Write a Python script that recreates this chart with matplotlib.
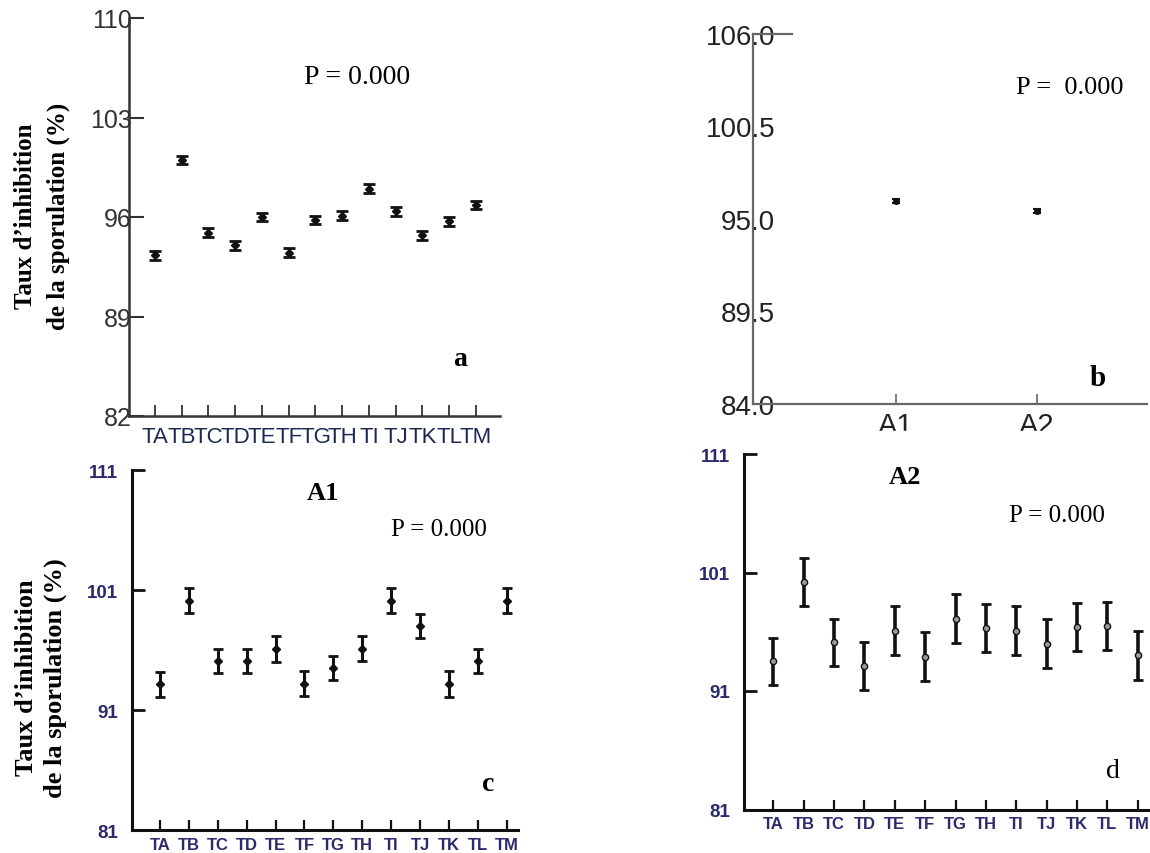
import numpy as np
import matplotlib
matplotlib.use("Agg")
from matplotlib import pyplot as plt
from matplotlib.patches import Rectangle

treatments = ['TA', 'TB', 'TC', 'TD', 'TE', 'TF', 'TG', 'TH', 'TI', 'TJ', 'TK', 'TL', 'TM']

# panel a: all treatments
a_means = [93.3, 100.0, 94.9, 94.0, 96.0, 93.5, 95.8, 96.1, 98.0, 96.4, 94.7, 95.7, 96.85]
a_err = [0.3, 0.3, 0.3, 0.3, 0.3, 0.3, 0.3, 0.3, 0.3, 0.3, 0.3, 0.3, 0.3]
a_yticks = [82, 89, 96, 103, 110]

# panel b: isolates
isolates = ['A1', 'A2']
b_means = [96.05, 95.5]
b_err = [0.12, 0.12]
b_yticks = [84.0, 89.5, 95.0, 100.5, 106.0]

# panel c: isolate A1
c_means = [93.15, 100.1, 95.1, 95.1, 96.1, 93.2, 94.5, 96.1, 100.1, 98.0, 93.15, 95.1, 100.1]
c_err = [1.05, 1.03, 1.0, 1.0, 1.07, 1.05, 1.0, 1.05, 1.03, 1.0, 1.08, 1.0, 1.03]

# panel d: isolate A2
d_means = [93.5, 100.2, 95.1, 93.1, 96.1, 93.9, 97.1, 96.3, 96.1, 95.0, 96.4, 96.5, 94.0]
d_err = [2.0, 2.0, 1.95, 2.05, 2.05, 2.05, 2.05, 2.05, 2.05, 2.05, 2.05, 2.05, 2.05]
cd_yticks = [81, 91, 101, 111]

YLABEL = 'Taux d\u2019inhibition\nde la sporulation (%)'
SERIF = 'Liberation Serif'
SANS = 'Liberation Sans'

W, H = 1150, 854


def px_rect(left, top, right, bottom):
    """pixel box -> figure fraction rect"""
    return [left / W, 1 - bottom / H, (right - left) / W, (bottom - top) / H]


def base_axis(ax, lw, color):
    for side in ['top', 'right']:
        ax.spines[side].set_visible(False)
    for side in ['left', 'bottom']:
        ax.spines[side].set_linewidth(lw)
        ax.spines[side].set_color(color)


def panel_a(fig):
    ax = fig.add_axes(px_rect(129, 19, 500, 417))
    x = np.arange(len(treatments))
    ax.errorbar(x, a_means, yerr=a_err, fmt='D', color='#111', ms=4,
                capsize=4, capthick=2, elinewidth=2)
    ax.set_xlim(-0.972, 12.9)
    ax.set_ylim(82, 110)
    base_axis(ax, 1.8, '#333')
    ax.set_yticks(a_yticks)
    ax.set_yticklabels([str(v) for v in a_yticks], fontsize=18, family=SANS, color='#333')
    ax.tick_params(axis='y', direction='in', length=11, width=1.5, color='#333', pad=-2)
    ax.set_xticks(x)
    # the labels run into each other in the original, kept that way
    ax.set_xticklabels(treatments, fontsize=16, family=SANS, color='#1c2850')
    ax.tick_params(axis='x', direction='in', length=8, width=1.3, color='#333', pad=7)
    fig.text(357 / W, 1 - 77 / H, 'P = 0.000', fontsize=20, family=SERIF,
             ha='center', va='center')
    fig.text(460 / W, 1 - 360 / H, 'a', fontsize=20, family=SERIF, weight='bold',
             ha='center', va='center')
    fig.text(42 / W, 1 - 216 / H, YLABEL, rotation=90, fontsize=18, family=SERIF,
             weight='bold', ha='center', va='center', multialignment='center',
             linespacing=1.55)


def panel_b(fig):
    ax = fig.add_axes(px_rect(753, 35, 1147, 405))
    x = np.arange(len(isolates))
    ax.errorbar(x, b_means, yerr=b_err, fmt='o', color='#111', ms=4,
                capsize=3, capthick=1.5, elinewidth=1.5)
    ax.set_xlim(-1.014, 1.78)
    ax.set_ylim(84, 106)
    base_axis(ax, 1.6, '#666')
    ax.set_yticks(b_yticks)
    ax.set_yticklabels([f'{v:.1f}' for v in b_yticks], fontsize=20, family=SANS, color='#222')
    ax.tick_params(axis='y', length=0, pad=-16)
    ax.set_xticks(x)
    ax.set_xticklabels(isolates, fontsize=21, family=SANS, color='#222')
    ax.tick_params(axis='x', direction='in', length=7, width=1.2, color='#666', pad=5)
    ax.plot([0, 0.1], [1, 1], transform=ax.transAxes, color='#666', lw=1.6, clip_on=False)
    fig.text(1070 / W, 1 - 88 / H, 'P =  0.000', fontsize=19, family=SERIF,
             ha='center', va='center')
    fig.text(1098 / W, 1 - 378 / H, 'b', fontsize=21, family=SERIF, weight='bold',
             ha='center', va='center')
    # bottom of the A1 / A2 labels is cut off in the original
    fig.patches.append(Rectangle((700 / W, 1 - 447 / H), 450 / W, 15 / H,
                                 transform=fig.transFigure, color='white', zorder=10))


def panel_cd(fig, rect, x0, x1, means, errs, marker, mfc, elw, title, title_xy, p_xy,
             letter, letter_xy, letter_weight):
    ax = fig.add_axes(rect)
    x = np.arange(len(treatments))
    ax.errorbar(x, means, yerr=errs, fmt=marker, color='#111', mfc=mfc, ms=4.5,
                capsize=3.5, capthick=2, elinewidth=elw)
    ax.set_xlim(x0, x1)
    ax.set_ylim(81, 111)
    base_axis(ax, 2.2, '#111')
    ax.set_yticks(cd_yticks)
    ax.set_yticklabels([str(v) for v in cd_yticks], fontsize=13.5, family=SANS,
                       weight='bold', color='#2b2a6b')
    ax.tick_params(axis='y', direction='in', length=9, width=2, color='#111', pad=10)
    ax.set_xticks(x)
    ax.set_xticklabels(treatments, fontsize=12, family=SANS, weight='bold', color='#2b2a6b')
    ax.tick_params(axis='x', direction='in', length=7, width=1.6, color='#111', pad=5)
    fig.text(title_xy[0] / W, 1 - title_xy[1] / H, title, fontsize=19, family=SERIF,
             weight='bold', ha='center', va='center')
    fig.text(p_xy[0] / W, 1 - p_xy[1] / H, 'P = 0.000', fontsize=18, family=SERIF,
             ha='center', va='center')
    fig.text(letter_xy[0] / W, 1 - letter_xy[1] / H, letter, fontsize=20, family=SERIF,
             weight=letter_weight, ha='center', va='center')


def main():
    fig = plt.figure(figsize=(11.5, 8.54), dpi=100)
    panel_a(fig)
    panel_b(fig)
    panel_cd(fig, px_rect(132, 471, 518, 831), -0.969, 12.39, c_means, c_err, 'D', '#111', 2.2,
             'A1', (323, 494), (439, 530), 'c', (488, 785), 'bold')
    panel_cd(fig, px_rect(744, 455, 1150, 810.5), -0.964, 12.4, d_means, d_err, 'o', '#999', 2.6,
             'A2', (905, 478), (1057, 516), 'd', (1113, 772), 'normal')
    fig.text(41 / W, 1 - 678 / H, YLABEL, rotation=90, fontsize=19, family=SERIF,
             weight='bold', ha='center', va='center', multialignment='center',
             linespacing=1.35)
    fig.savefig('out.png', dpi=100, facecolor='white')


if __name__ == '__main__':
    main()
